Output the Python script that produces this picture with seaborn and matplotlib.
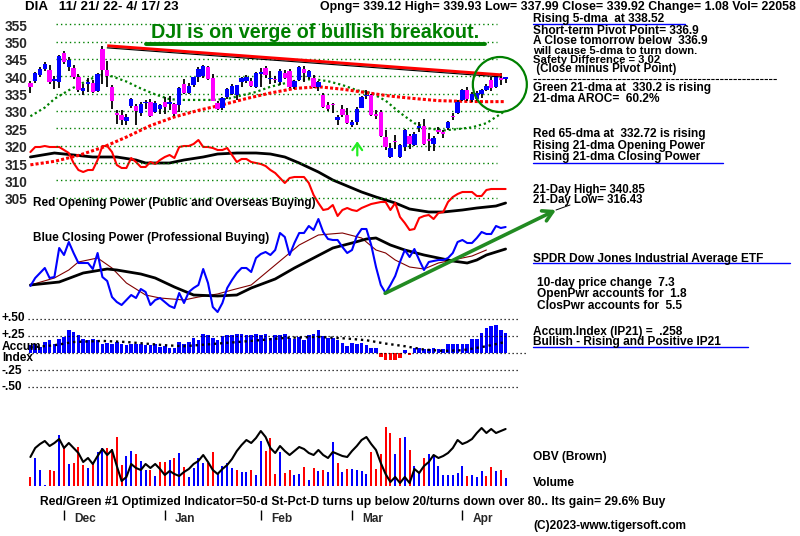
import numpy as np
import matplotlib
matplotlib.use('Agg')
import matplotlib.pyplot as plt
from matplotlib.patches import Ellipse
from matplotlib.lines import Line2D
import seaborn as sns

# ---- DIA daily bars 11/21/22 - 4/17/23 ----
opens = [338.0, 338.7, 340.4, 342.1, 341.8, 338.6, 338.5, 346.8, 342.6, 342.3,
         339.9, 335.9, 337.8, 338.0, 335.7, 348.0, 341.8, 336.8, 329.4, 328.9,
         327.2, 331.4, 331.4, 329.5, 332.2, 332.7, 329.8, 330.5, 332.5, 332.0,
         332.0, 331.7, 337.7, 335.3, 337.5, 339.9, 340.2, 342.6, 339.6, 332.2,
         330.9, 334.0, 335.0, 334.5, 338.5, 338.7, 338.8, 337.0, 340.8, 342.3,
         339.1, 339.0, 338.5, 341.1, 341.5, 336.9, 339.0, 342.0, 339.9, 339.4,
         336.8, 334.7, 331.6, 331.9, 327.5, 330.5, 329.0, 326.1, 326.8, 331.0,
         334.3, 334.6, 329.2, 329.8, 322.5, 316.9, 321.4, 316.9, 319.5, 322.8,
         320.2, 325.0, 325.7, 322.0, 320.5, 324.4, 323.9, 325.0, 328.7, 329.4,
         333.2, 336.0, 333.2, 333.6, 334.8, 336.2, 339.0, 337.0, 339.4, 339.12]
highs = [338.6, 341.2, 342.6, 344.0, 343.3, 340.2, 346.2, 347.2, 345.6, 343.2,
         340.6, 337.7, 339.4, 338.9, 340.9, 348.7, 344.4, 337.4, 330.4, 330.3,
         329.2, 333.8, 332.1, 332.6, 333.2, 333.4, 332.9, 332.0, 334.0, 334.2,
         332.3, 336.9, 339.2, 338.0, 339.9, 342.6, 343.4, 343.0, 340.6, 332.9,
         334.0, 336.7, 337.7, 337.6, 339.7, 340.5, 339.4, 341.3, 342.4, 343.0,
         341.6, 340.2, 342.2, 341.8, 342.2, 339.0, 342.9, 343.0, 341.7, 340.3,
         338.6, 335.2, 332.5, 332.4, 328.9, 331.6, 330.8, 327.5, 331.2, 334.3,
         336.2, 335.0, 330.2, 330.4, 324.5, 320.9, 323.2, 320.4, 324.8, 323.4,
         324.0, 326.8, 327.8, 323.7, 322.8, 325.5, 324.6, 327.0, 329.4, 333.1,
         336.4, 337.0, 335.5, 335.8, 336.3, 337.8, 339.8, 340.6, 340.85, 339.93]
lows = [335.2, 338.2, 339.9, 341.6, 337.8, 336.4, 336.5, 343.5, 341.6, 339.2,
        335.6, 334.7, 335.6, 335.2, 335.4, 337.8, 336.9, 330.6, 326.3, 326.0,
        325.9, 330.9, 326.1, 328.7, 330.5, 328.2, 329.4, 329.1, 329.2, 330.4,
        328.6, 329.6, 334.9, 334.8, 337.0, 338.4, 339.4, 338.9, 332.8, 330.2,
        330.3, 333.4, 334.6, 333.3, 336.9, 338.0, 336.8, 336.6, 336.9, 339.5,
        337.9, 338.0, 337.4, 339.2, 336.7, 336.3, 338.7, 338.5, 339.1, 336.6,
        335.7, 331.0, 329.9, 329.4, 325.9, 328.4, 326.2, 325.3, 325.9, 330.9,
        333.5, 328.6, 327.6, 322.4, 318.8, 316.6, 319.2, 316.43, 318.5, 319.2,
        319.8, 324.0, 320.2, 318.6, 318.6, 323.3, 322.2, 324.6, 327.4, 329.1,
        333.0, 333.0, 332.6, 332.9, 333.8, 335.9, 335.8, 336.6, 337.4, 337.99]
closes = [336.9, 340.9, 342.2, 343.6, 338.3, 339.1, 346.0, 344.2, 344.6, 339.9,
          336.1, 336.5, 338.5, 335.4, 340.7, 341.9, 340.1, 332.8, 328.8, 327.3,
          328.4, 333.6, 330.1, 332.1, 332.6, 328.5, 332.3, 331.6, 331.2, 332.6,
          329.2, 336.5, 335.2, 337.2, 339.8, 342.0, 343.1, 339.2, 333.0, 330.5,
          333.8, 336.4, 337.3, 337.5, 339.5, 339.9, 337.1, 341.0, 341.0, 340.5,
          339.4, 338.9, 341.6, 339.5, 337.0, 338.8, 342.6, 341.0, 341.4, 337.0,
          338.4, 331.3, 330.6, 331.6, 328.3, 328.9, 326.6, 326.8, 330.5, 334.1,
          334.6, 329.0, 328.7, 322.7, 319.6, 319.3, 321.1, 320.2, 324.4, 320.6,
          323.5, 325.8, 320.5, 321.4, 322.3, 324.0, 323.5, 326.8, 328.3, 332.7,
          336.0, 333.4, 334.8, 335.3, 336.0, 337.2, 336.6, 340.4, 338.84, 339.92]

# moving averages of price (dotted)
ma21_days = [0, 3, 5, 8, 10, 13, 15, 17, 20, 23, 26, 29, 32, 35, 38, 41, 44, 47,
             50, 53, 56, 59, 62, 65, 68, 71, 74, 77, 80, 83, 86, 89, 92, 95, 98, 99]
ma21_vals = [328.5, 331.0, 333.5, 336.0, 337.5, 339.5, 340.5, 340.0, 338.5, 336.5,
             334.8, 333.4, 333.2, 333.2, 333.2, 333.5, 334.5, 335.5, 337.0, 338.0,
             339.0, 339.2, 338.6, 337.5, 336.0, 335.2, 333.0, 329.5, 326.5, 325.0,
             324.4, 324.8, 325.3, 326.5, 329.2, 330.2]
ma65_days = [0, 5, 10, 15, 20, 25, 30, 35, 40, 45, 50, 55, 60, 65, 70, 75, 80,
             85, 90, 95, 99]
ma65_vals = [314.5, 315.5, 317.2, 319.5, 322.5, 325.8, 328.3, 330.2, 331.8, 333.6,
             335.2, 336.5, 337.0, 336.3, 335.3, 334.3, 333.6, 333.0, 332.8, 332.7,
             332.72]

# Opening Power (red) and Closing Power (blue), chart units
open_power = [168, 173, 173, 174, 173, 173, 173, 170, 167, 157, 150, 148, 150, 150,
              160, 174, 174, 168, 155, 152, 152, 162, 158, 153, 153, 158, 156, 160,
              163, 165, 162, 173, 174, 174, 176, 180, 173, 173, 172, 170, 170, 172,
              165, 158, 161, 161, 158, 157, 156, 154, 150, 147, 142, 137, 142, 143,
              143, 143, 137, 125, 117, 110, 111, 115, 104, 110, 112, 110, 109, 112,
              114, 116, 117, 118, 118, 110, 117, 103, 97, 90, 91, 102, 104, 105,
              101, 107, 108, 118, 123, 126, 128, 128, 128, 124, 124, 130, 131, 131,
              131, 131]
op_ma_days = [0, 5, 9, 13, 18, 22, 24, 29, 32, 36, 39, 43, 47, 50, 53, 56, 60, 63,
              66, 69, 72, 76, 79, 83, 86, 90, 93, 97, 99]
op_ma_vals = [163, 167, 165, 163, 163, 160, 157, 157, 160, 163, 166, 167, 167, 166,
              163, 157, 148, 140, 134, 128, 123, 117, 111, 108, 108, 110, 112, 114, 117]
close_power = [34, 42, 47, 52, 42, 43, 72, 65, 78, 67, 57, 57, 57, 51, 67, 43, 39,
               23, 18, 15, 20, 25, 22, 31, 28, 15, 20, 22, 18, 14, 12, 27, 17, 28,
               32, 35, 51, 37, 13, 8, 17, 32, 40, 47, 52, 52, 48, 62, 66, 68, 65,
               70, 87, 83, 65, 77, 87, 87, 94, 90, 101, 88, 81, 80, 80, 73, 67, 70,
               84, 91, 91, 75, 53, 35, 27, 35, 44, 58, 70, 63, 71, 60, 50, 58, 59,
               60, 60, 62, 67, 78, 80, 77, 77, 82, 88, 86, 86, 94, 92, 93]
cp_ma_days = [0, 6, 11, 16, 18, 23, 26, 30, 34, 39, 43, 46, 51, 55, 59, 63, 67, 70,
              72, 75, 78, 82, 85, 88, 91, 93, 95, 99]
cp_ma_vals = [35, 38, 47, 51, 50, 46, 42, 33, 25, 24, 25, 32, 41, 52, 62, 72, 77,
              81, 82, 75, 70, 65, 62, 59, 57, 60, 65, 71]
cp_fast_days = [0, 5, 8, 10, 14, 17, 20, 24, 27, 32, 35, 39, 42, 46, 49, 53, 56, 60,
                65, 69, 72, 74, 76, 79, 82, 85, 88, 92, 95]
cp_fast_vals = [35, 42, 50, 58, 62, 52, 37, 25, 22, 20, 23, 26, 30, 35, 47, 63, 75,
                85, 87, 82, 70, 67, 60, 53, 51, 57, 60, 64, 70]

# Accumulation Index (IP21)
accum = [0.12, 0.138, 0.09, 0.16, 0.186, 0.138, 0.21, 0.235, 0.343, 0.309,
         0.26, 0.21, 0.196, 0.21, 0.186, 0.138, 0.15, 0.138, 0.16, 0.138,
         0.113, 0.138, 0.138, 0.138, 0.113, 0.113, 0.125, 0.09, 0.10, 0.078,
         0.078, 0.16, 0.138, 0.162, 0.226, 0.196, 0.275, 0.26, 0.226, 0.196,
         0.245, 0.26, 0.26, 0.275, 0.275, 0.26, 0.26, 0.285, 0.26, 0.275,
         0.226, 0.26, 0.26, 0.275, 0.226, 0.211, 0.235, 0.186, 0.26, 0.285,
         0.333, 0.245, 0.226, 0.226, 0.196, 0.147, 0.098, 0.14, 0.137, 0.15,
         0.11, 0.078, 0.078, -0.059, -0.098, -0.108, -0.108, -0.069, 0.039, -0.035,
         0.078, 0.078, 0.064, 0.064, 0.078, 0.064, 0.064, 0.127, 0.127, 0.137,
         0.137, 0.137, 0.211, 0.211, 0.294, 0.373, 0.392, 0.407, 0.343, 0.299]
accum_ma_days = [0, 5, 9, 15, 20, 28, 32, 39, 46, 53, 60, 66, 70, 74, 78, 82, 86, 90, 95, 99]
accum_ma_vals = [0.08, 0.113, 0.16, 0.176, 0.16, 0.113, 0.098, 0.137, 0.176, 0.22,
                 0.235, 0.211, 0.186, 0.137, 0.098, 0.049, 0.029, 0.039, 0.098, 0.162]

# Volume (scaled) with up/down colour codes, and OBV (scaled)
volume = [9, 28, 16, 1, 16, 15, 51, 38, 22, 23, 39, 21, 18, 23, 34, 38, 38, 37, 49, 21,
          30, 35, 32, 25, 16, 16, 10, 24, 24, 26, 28, 33, 19, 9, 18, 28, 23, 23, 34, 13,
          20, 23, 18, 16, 14, 14, 16, 11, 45, 35, 48, 12, 34, 13, 16, 11, 12, 19, 6, 18,
          15, 16, 14, 44, 23, 14, 17, 17, 16, 15, 12, 34, 17, 32, 59, 53, 32, 48, 49, 36,
          20, 14, 28, 32, 30, 20, 11, 11, 11, 13, 20, 10, 11, 9, 15, 10, 19, 15, 16, 8]
vol_updown = ("RBBBRRBRBRRRBRBBRRRRBBRBBRBRRBRBRBBBBRRBBBBRBBRBBRRRBRRBBRBRBRBBRBRBBBBRRRRRBR"
              "BRBBRBBBBBBBBRBBBRRBRB")
obv = [29, 38, 42, 45, 40, 43, 47, 38, 43, 38, 33, 24, 28, 22, 30, 37, 31, 36, 20, 5,
       9, 22, 18, 16, 22, 18, 22, 17, 11, 15, 12, 10, 14, 17, 22, 25, 31, 24, 16, 12,
       17, 21, 27, 35, 41, 46, 43, 48, 55, 49, 38, 33, 40, 35, 31, 35, 39, 37, 33, 31,
       36, 31, 28, 34, 32, 30, 29, 35, 40, 46, 49, 42, 36, 23, 12, 4, 9, 3, 9, 3,
       17, 13, 20, 24, 31, 28, 30, 33, 38, 46, 42, 44, 47, 53, 58, 53, 57, 53, 55, 57]

month_days = [7, 28, 48, 67, 90]
month_names = ['Dec', 'Jan', 'Feb', 'Mar', 'Apr']
grid_levels = [355, 350, 345, 340, 335, 330, 325, 320, 315, 310, 305]

# ---- figure: stacked transparent layers on one pixel frame ----
sns.set_style('white')
plt.rcParams['font.family'] = ['Liberation Sans', 'DejaVu Sans']
W, H = 800, 536
fig = plt.figure(figsize=(8, 5.36), dpi=100)
XL = (-30.4 / 4.8, (800 - 30.4) / 4.8)


def layer(ylim):
    ax = fig.add_axes([0, 0, 1, 1])
    ax.set_xlim(*XL)
    ax.set_ylim(*ylim)
    ax.axis('off')
    ax.patch.set_alpha(0)
    return ax


def put(x, y, s, size=8.6, color='black', **kw):
    fig.text(x / W, 1 - y / H, s, fontsize=size, color=color, fontweight='bold',
             va='center', ha=kw.pop('ha', 'left'), **kw)


def hline(x1, x2, y, color='blue', lw=1.0, **kw):
    fig.add_artist(Line2D([x1 / W, x2 / W], [1 - y / H, 1 - y / H], color=color, lw=lw, **kw))


ax_pw = layer((-216, 320))          # power lines
ax_ac = layer((-2.6912, 5.1868))    # accumulation index
ax_v = layer((-50, 486))            # volume + OBV
ax_p = layer((207.54, 362.0))       # price

days = np.arange(len(closes))
o, h, l, c = map(np.array, (opens, highs, lows, closes))
GREEN = '#008000'

# price panel
ax_p.hlines(grid_levels, 5.3, 97.2, colors=GREEN, lw=1, linestyles=(0, (1, 2.2)))
for lev in grid_levels:
    ax_p.text(-5.4, lev - 0.7, str(lev), fontsize=9.8, fontweight='bold', va='center')
ax_p.plot(ma21_days, ma21_vals, color=GREEN, lw=1.6, ls=(0, (1, 1.3)))
ax_p.plot(ma65_days, ma65_vals, color='red', lw=2.2, ls=(0, (1, 0.7)))
ax_p.vlines(days, l, h, color='black', lw=1.3)
up = c >= o
body = np.maximum(np.abs(c - o), 0.35)
ax_p.bar(days, body, bottom=np.minimum(o, c), width=0.88, linewidth=0,
         color=np.where(up, '#0000ff', '#ff00ff'), zorder=3)
ax_p.plot([16, 98.2], [348.8, 340.4], color='red', lw=2.2, solid_capstyle='butt', zorder=4)
ax_p.plot([16, 98.2], [348.2, 339.8], color='black', lw=0.8, zorder=4)
ax_p.add_patch(Ellipse((97.8, 337.65), 11.25, 15.85, fill=False, ec=GREEN, lw=1.6, zorder=5))
ax_p.annotate('', xy=(68.1, 321.3), xytext=(68.1, 317.2),
              arrowprops=dict(arrowstyle='->,head_length=0.5,head_width=0.35',
                              color='#22ee22', lw=1.6, shrinkA=0, shrinkB=0))

# power lines
ax_pw.plot(op_ma_days, op_ma_vals, color='black', lw=2)
sns.lineplot(x=days, y=open_power, ax=ax_pw, color='red', lw=1.5)
ax_pw.plot(cp_fast_days, cp_fast_vals, color='#800000', lw=0.8)
ax_pw.plot(cp_ma_days, cp_ma_vals, color='black', lw=2)
sns.lineplot(x=days, y=close_power, ax=ax_pw, color='blue', lw=1.5)
ax_pw.annotate('', xy=(109.5, 110), xytext=(73.9, 26.7),
               arrowprops=dict(arrowstyle='->,head_length=0.7,head_width=0.4',
                               color='#228B22', lw=2.6, shrinkA=0, shrinkB=0))

# accumulation index
ax_ac.hlines([0.5, 0.25, -0.25, -0.5], -0.5, 102, colors='black', lw=0.9, linestyles=(0, (1, 2.2)))
ax_ac.hlines([0.0], -0.5, 103.5, colors='black', lw=0.9, linestyles=(0, (1, 2.2)))
acc = np.array(accum)
ax_ac.bar(days, acc, width=0.75, linewidth=0, color=np.where(acc >= 0, '#0000ff', '#ff0000'))
ax_ac.plot(accum_ma_days, accum_ma_vals, color='black', lw=1.7, ls=(0, (1, 1.6)))

# volume and OBV
ax_v.bar(days, volume, width=0.45, linewidth=0,
         color=['#ff0000' if f == 'R' else '#0000ff' for f in vol_updown])
sns.lineplot(x=days, y=obv, ax=ax_v, color='black', lw=1.5)
ax_v.vlines(month_days, -34, -24, color='black', lw=1)
for d, name in zip(month_days, month_names):
    ax_v.text(d + 2.1, -33, name, fontsize=8.6, fontweight='bold', va='center')

# ---- texts ----
put(25, 7, 'DIA   11/ 21/ 22- 4/ 17/ 23', size=9.6)
put(320, 7, 'Opng= 339.12 High= 339.93 Low= 337.99 Close= 339.92 Change= 1.08 Vol= 22058', size=8.9)
put(315, 33, 'DJI is on verge of bullish breakout.', size=14.2, color=GREEN, ha='center')
hline(146, 485, 44, color=GREEN, lw=2.8)

right = [(533, 19, 'Rising 5-dma  at 338.52', 8.6),
         (533, 31, 'Short-term Pivot Point= 336.9', 8.6),
         (533, 41, 'A Close tomorrow below  336.9', 8.6),
         (533, 51, 'will cause 5-dma to turn down.', 8.1),
         (533, 60, 'Safety Difference = 3.02', 8.1),
         (533, 69, ' (Close minus Pivot Point)', 8.3),
         (533, 88, 'Green 21-dma at  330.2 is rising', 8.6),
         (533, 99, '21-dma AROC=  60.2%', 8.6),
         (533, 134, 'Red 65-dma at  332.72 is rising', 8.6),
         (533, 146, 'Rising 21-dma Opening Power', 8.6),
         (533, 157, 'Rising 21-dma Closing Power', 8.6),
         (533, 190, '21-Day High= 340.85', 8.3),
         (533, 200, '21-Day Low= 316.43', 8.3),
         (533, 259, 'SPDR Dow Jones Industrial Average ETF', 8.6),
         (537, 283, '10-day price change  7.3', 8.6),
         (537, 294, 'OpenPwr accounts for  1.8', 8.6),
         (537, 306, 'ClosPwr accounts for  5.5', 8.6),
         (533, 332, 'Accum.Index (IP21) =  .258', 8.6),
         (533, 342, 'Bullish - Rising and Positive IP21', 8.6),
         (533, 457, 'OBV (Brown)', 8.6),
         (533, 483, 'Volume', 8.6),
         (533, 526, '(C)2023-www.tigersoft.com', 8.6)]
for x, y, s, fs in right:
    put(x, y, s, size=fs)
hline(533, 685, 24)
hline(533, 723, 163)
hline(533, 790, 263)
hline(533, 748, 347)
hline(533, 777, 79, color='black', lw=0.8, ls=(0, (3, 1)))
fig.add_artist(Line2D([556 / W, 570 / W], [1 - 210 / H, 1 - 205 / H], color='black', lw=0.7))

put(33, 203, 'Red Opening Power (Public and Overseas Buying)', size=8.5)
put(33, 238, 'Blue Closing Power (Professional Buying)', size=8.5)
put(40, 502, 'Red/Green #1 Optimized Indicator=50-d St-Pct-D turns up below 20/turns down over 80.. '
    'Its gain= 29.6% Buy', size=8.75)
for y, s in [(318, '+.50'), (335, '+.25'), (347, 'Accum'), (358, 'Index'), (371, '-.25'), (387, '-.50')]:
    put(2, y, s, size=8.6)

fig.savefig('out.png', dpi=100, facecolor='white')
